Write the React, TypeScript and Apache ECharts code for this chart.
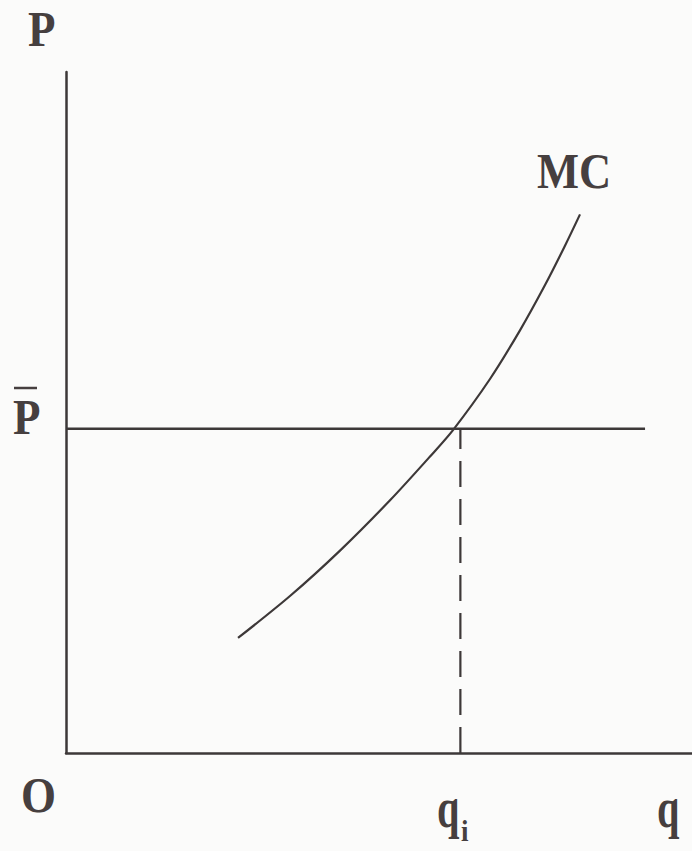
import React, { useEffect, useRef } from "react";
import * as echarts from "echarts";

// Marginal cost curve MC (q, P)
const mcCurve: [number, number][] = [
  [27.48, 16.89],
  [35.78, 23.05],
  [43.77, 29.72],
  [51.76, 37.11],
  [58.15, 43.54],
  [61.82, 47.42],
  [67.73, 54.92],
  [72.52, 62.06],
  [76.52, 68.71],
  [79.71, 74.49],
  [82.11, 79.09],
];
// Price line P-bar
const priceLevel = 47.6;
const priceLineEnd = 92.5;
// Quantity q_i where price meets MC
const qi = 63.0;

const axisMin = 0;
const axisMax = 100;

const INK = "#3d3838";
const TEXT = "#463f3f";
const FONT = "Liberation Serif";

export default function App() {
  const ref = useRef<HTMLDivElement>(null);
  useEffect(() => {
    if (!ref.current) return;
    const chart = echarts.init(ref.current, undefined, { renderer: "svg" });
    const label = (
      text: string,
      x: number,
      y: number,
      size: number,
      scaleX: number
    ) => ({
      type: "text",
      x,
      y,
      scaleX,
      silent: true,
      style: {
        text,
        fill: TEXT,
        fontFamily: FONT,
        fontWeight: "bold",
        fontSize: size,
        textAlign: "left",
        textVerticalAlign: "middle",
      },
    });
    chart.setOption({
      animation: false,
      backgroundColor: "#fbfbfa",
      grid: { left: 66, right: 0, top: 72, bottom: 98, containLabel: false },
      xAxis: {
        type: "value",
        min: axisMin,
        max: axisMax,
        axisLine: { show: true, onZero: false, lineStyle: { color: INK, width: 2.5 } },
        axisTick: { show: false },
        axisLabel: { show: false },
        splitLine: { show: false },
      },
      yAxis: {
        type: "value",
        min: axisMin,
        max: axisMax,
        axisLine: { show: true, onZero: false, lineStyle: { color: INK, width: 2.5 } },
        axisTick: { show: false },
        axisLabel: { show: false },
        splitLine: { show: false },
      },
      series: [
        {
          name: "MC",
          type: "line",
          data: mcCurve,
          smooth: 0.3,
          showSymbol: false,
          lineStyle: { color: INK, width: 2.2 },
        },
        {
          name: "P",
          type: "line",
          data: [
            [axisMin, priceLevel],
            [priceLineEnd, priceLevel],
          ],
          showSymbol: false,
          lineStyle: { color: INK, width: 2.5 },
        },
        {
          name: "qi",
          type: "line",
          data: [
            [qi, axisMin],
            [qi, priceLevel],
          ],
          showSymbol: false,
          lineStyle: { color: INK, width: 2.2, type: [26, 12] },
        },
      ],
      graphic: [
        label("P", 28, 29, 50, 0.9),
        label("P", 13, 417, 50, 0.9),
        {
          type: "line",
          silent: true,
          shape: { x1: 14, y1: 388, x2: 37, y2: 388 },
          style: { stroke: TEXT, lineWidth: 2.5 },
        },
        label("MC", 537, 171, 50, 0.89),
        label("O", 21, 795, 50, 0.9),
        label("q", 437, 809, 56, 0.72),
        label("i", 461, 831, 30, 0.9),
        label("q", 657, 809, 56, 0.72),
      ],
    });
    return () => chart.dispose();
  }, []);
  return (
    <div
      ref={ref}
      style={{ position: "fixed", left: 0, top: 0, width: 692, height: 851 }}
    />
  );
}
